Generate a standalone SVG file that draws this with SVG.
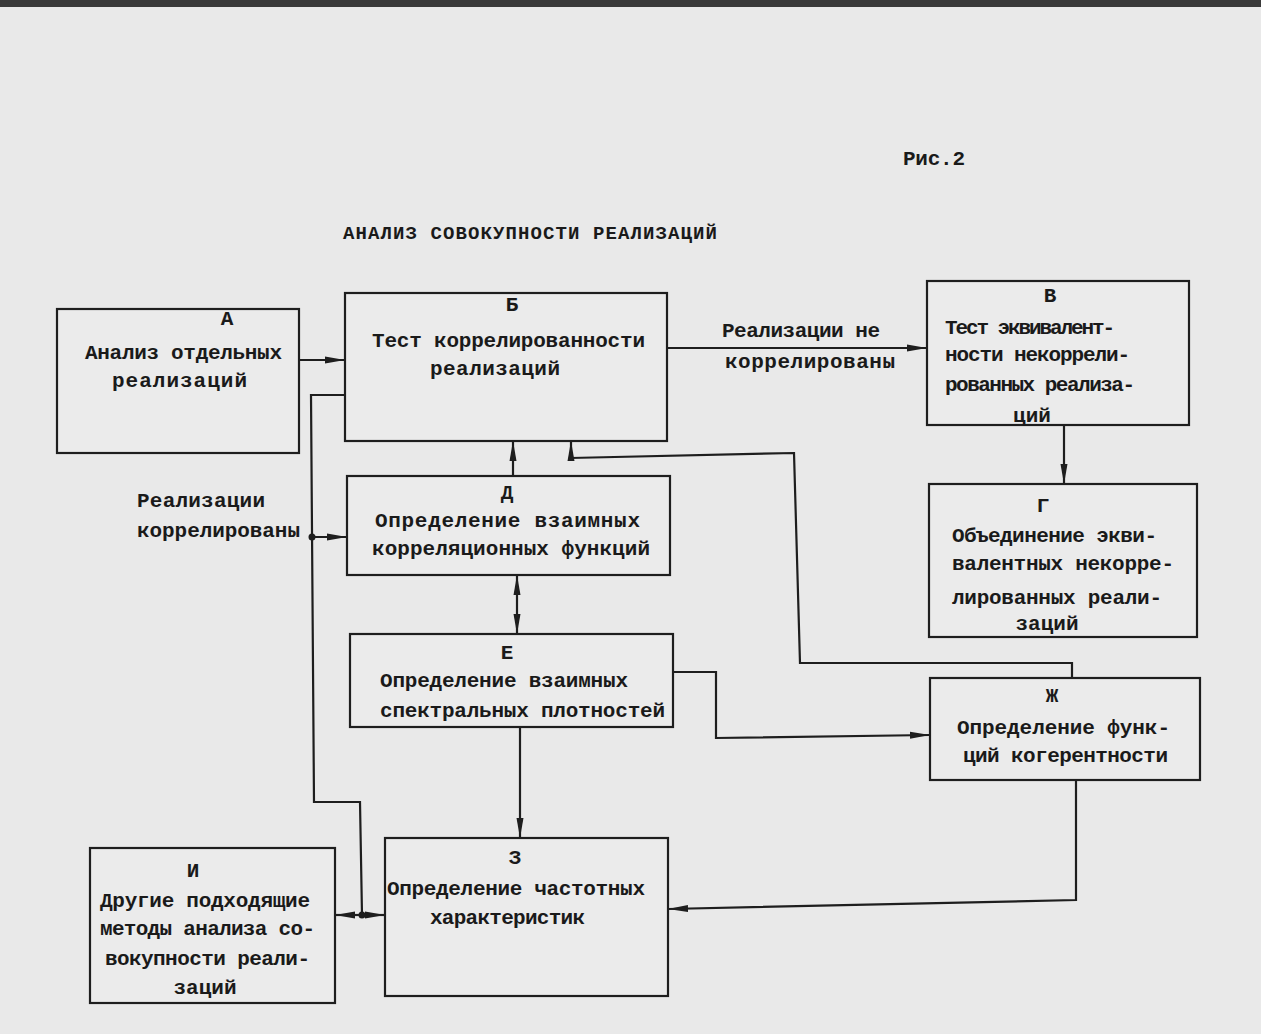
<svg xmlns="http://www.w3.org/2000/svg" width="1261" height="1034" viewBox="0 0 1261 1034">
<defs>
<style>
.box{fill:#ebebeb;stroke:#1e1e1e;stroke-width:2.2}
.ln{fill:none;stroke:#1e1e1e;stroke-width:2.2}
text{font-family:"Liberation Mono","DejaVu Sans Mono",monospace;font-size:21px;fill:#1a1a1a;font-weight:bold}
.c{text-anchor:middle}
</style>
<marker id="ah" viewBox="0 0 20 10" refX="20" refY="5" markerWidth="20" markerHeight="10" markerUnits="userSpaceOnUse" orient="auto-start-reverse">
<path d="M0,1.5 L20,5 L0,8.5 Z" fill="#1e1e1e"/>
</marker>
</defs>
<rect x="0" y="0" width="1261" height="1034" fill="#e9e9e9"/>
<rect x="0" y="0" width="1261" height="7" fill="#3a3a3a"/>

<text x="903" y="165" textLength="62">Рис.2</text>
<text x="343" y="239" textLength="374" style="font-size:19px">АНАЛИЗ СОВОКУПНОСТИ РЕАЛИЗАЦИЙ</text>

<g id="connectors">
<line class="ln" x1="299" y1="360" x2="345" y2="360" marker-end="url(#ah)"/>
<polyline class="ln" points="345,395 311,395 314,802 360,802 362,915"/>
<line class="ln" x1="312" y1="537" x2="347" y2="537" marker-end="url(#ah)"/>
<circle cx="312" cy="537" r="3.5" fill="#1e1e1e"/>
<circle cx="362" cy="915" r="3.5" fill="#1e1e1e"/>
<line class="ln" x1="362" y1="915" x2="335" y2="915" marker-end="url(#ah)"/>
<line class="ln" x1="362" y1="915" x2="385" y2="915" marker-end="url(#ah)"/>
<line class="ln" x1="513" y1="476" x2="513" y2="441" marker-end="url(#ah)"/>
<polyline class="ln" points="1072,678 1072,663 800,663 794,453 571,458 571,441" marker-end="url(#ah)"/>
<line class="ln" x1="517" y1="575" x2="517" y2="634" marker-start="url(#ah)" marker-end="url(#ah)"/>
<polyline class="ln" points="673,672 716,672 716,738 930,735" marker-end="url(#ah)"/>
<line class="ln" x1="520" y1="727" x2="520" y2="838" marker-end="url(#ah)"/>
<polyline class="ln" points="1076,780 1076,900 668,909" marker-end="url(#ah)"/>
<line class="ln" x1="667" y1="348" x2="927" y2="348" marker-end="url(#ah)"/>
<line class="ln" x1="1064" y1="425" x2="1064" y2="484" marker-end="url(#ah)"/>
<text x="722" y="337" textLength="158">Реализации не</text>
<text x="725" y="368" textLength="170">коррелированы</text>
<text x="137" y="507" textLength="128">Реализации</text>
<text x="137" y="537" textLength="163">коррелированы</text>
</g>

<g id="node-A">
<rect class="box" x="57" y="309" width="242" height="144"/>
<text class="c" x="227" y="325">А</text>
<text x="85" y="359" textLength="197">Анализ отдельных</text>
<text x="112" y="387" textLength="135">реализаций</text>
</g>

<g id="node-B">
<rect class="box" x="345" y="293" width="322" height="148"/>
<text class="c" x="512" y="311">Б</text>
<text x="372" y="347" textLength="273">Тест коррелированности</text>
<text x="430" y="375" textLength="130">реализаций</text>
</g>

<g id="node-V">
<rect class="box" x="927" y="281" width="262" height="144"/>
<text class="c" x="1050" y="302">В</text>
<text x="945" y="334" textLength="170">Тест эквивалент-</text>
<text x="945" y="361" textLength="185">ности некоррели-</text>
<text x="945" y="391" textLength="190">рованных реализа-</text>
<text class="c" x="1032" y="422">ций</text>
</g>

<g id="node-G">
<rect class="box" x="929" y="484" width="268" height="153"/>
<text class="c" x="1043" y="512">Г</text>
<text x="952" y="542" textLength="205">Объединение экви-</text>
<text x="952" y="570" textLength="222">валентных некорре-</text>
<text x="952" y="604" textLength="210">лированных реали-</text>
<text class="c" x="1047" y="630">заций</text>
</g>

<g id="node-D">
<rect class="box" x="347" y="476" width="323" height="99"/>
<text class="c" x="507" y="499">Д</text>
<text x="375" y="527" textLength="265">Определение взаимных</text>
<text x="372" y="555" textLength="278">корреляционных функций</text>
</g>

<g id="node-E">
<rect class="box" x="350" y="634" width="323" height="93"/>
<text class="c" x="507" y="659">Е</text>
<text x="380" y="687" textLength="248">Определение взаимных</text>
<text x="380" y="717" textLength="285">спектральных плотностей</text>
</g>

<g id="node-Zh">
<rect class="box" x="930" y="678" width="270" height="102"/>
<text class="c" x="1052" y="702">Ж</text>
<text x="957" y="734" textLength="213">Определение функ-</text>
<text x="963" y="762" textLength="205">ций когерентности</text>
</g>

<g id="node-Z">
<rect class="box" x="385" y="838" width="283" height="158"/>
<text class="c" x="515" y="864">З</text>
<text x="387" y="895" textLength="258">Определение частотных</text>
<text x="430" y="924" textLength="155">характеристик</text>
</g>

<g id="node-I">
<rect class="box" x="90" y="848" width="245" height="155"/>
<text class="c" x="193" y="877">И</text>
<text x="100" y="907" textLength="210">Другие подходящие</text>
<text x="100" y="935" textLength="215">методы анализа со-</text>
<text x="105" y="965" textLength="205">вокупности реали-</text>
<text class="c" x="205" y="994">заций</text>
</g>
</svg>
